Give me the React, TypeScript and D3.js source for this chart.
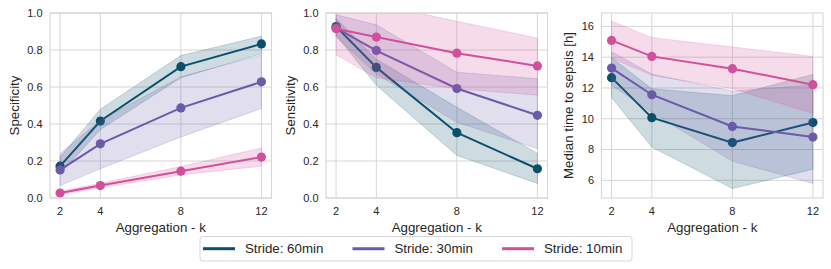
import React from "react";
import * as d3 from "d3";

const ks = [2, 4, 8, 12];
const xTicks = [2, 4, 8, 12];
const seriesNames = ["Stride: 60min", "Stride: 30min", "Stride: 10min"];
const seriesColors = ["#0b4f6b", "#6a5aa8", "#d1509b"];

const spec60 = [0.172, 0.416, 0.71, 0.833];
const spec60Lo = [0.13, 0.37, 0.65, 0.78];
const spec60Hi = [0.22, 0.48, 0.77, 0.875];
const spec30 = [0.152, 0.293, 0.487, 0.628];
const spec30Lo = [0.067, 0.158, 0.33, 0.484];
const spec30Hi = [0.24, 0.42, 0.655, 0.773];
const spec10 = [0.027, 0.067, 0.145, 0.221];
const spec10Lo = [0.018, 0.055, 0.125, 0.172];
const spec10Hi = [0.036, 0.08, 0.17, 0.27];

const sens60 = [0.927, 0.706, 0.353, 0.158];
const sens60Lo = [0.88, 0.61, 0.23, 0.079];
const sens60Hi = [0.97, 0.75, 0.49, 0.242];
const sens30 = [0.92, 0.797, 0.592, 0.447];
const sens30Lo = [0.87, 0.67, 0.41, 0.266];
const sens30Hi = [0.99, 0.936, 0.68, 0.645];
const sens10 = [0.915, 0.87, 0.783, 0.714];
const sens10Lo = [0.775, 0.65, 0.59, 0.556];
const sens10Hi = [1.06, 1.05, 0.955, 0.864];

const time60 = [12.67, 10.07, 8.45, 9.75];
const time60Lo = [11.37, 8.16, 5.46, 6.72];
const time60Hi = [13.97, 11.95, 11.5, 12.88];
const time30 = [13.29, 11.56, 9.5, 8.81];
const time30Lo = [12.17, 10.4, 7.25, 5.79];
const time30Hi = [14.35, 12.9, 11.8, 12.2];
const time10 = [15.09, 14.05, 13.25, 12.21];
const time10Lo = [13.95, 12.82, 11.95, 10.35];
const time10Hi = [16.34, 15.27, 14.66, 14.05];

const unitTicks = [0, 0.2, 0.4, 0.6, 0.8, 1.0];
const timeTicks = [6, 8, 10, 12, 14, 16];

const FONT = "'Liberation Sans', Arial, Helvetica, sans-serif";
const GRID = "#d6d6d6";
const TEXT = "#262626";

type Series = { mean: number[]; lo: number[]; hi: number[] };

const panels = [
  {
    id: "p1",
    left: 50,
    ylabel: "Specificity",
    ydomain: [0, 1] as [number, number],
    yticks: unitTicks,
    fmt: (v: number) => v.toFixed(1),
    series: [
      { mean: spec60, lo: spec60Lo, hi: spec60Hi },
      { mean: spec30, lo: spec30Lo, hi: spec30Hi },
      { mean: spec10, lo: spec10Lo, hi: spec10Hi },
    ] as Series[],
    ylabX: 14,
  },
  {
    id: "p2",
    left: 326,
    ylabel: "Sensitivity",
    ydomain: [0, 1] as [number, number],
    yticks: unitTicks,
    fmt: (v: number) => v.toFixed(1),
    series: [
      { mean: sens60, lo: sens60Lo, hi: sens60Hi },
      { mean: sens30, lo: sens30Lo, hi: sens30Hi },
      { mean: sens10, lo: sens10Lo, hi: sens10Hi },
    ] as Series[],
    ylabX: 290,
  },
  {
    id: "p3",
    left: 601.5,
    ylabel: "Median time to sepsis [h]",
    ydomain: [4.85, 16.87] as [number, number],
    yticks: timeTicks,
    fmt: (v: number) => String(v),
    series: [
      { mean: time60, lo: time60Lo, hi: time60Hi },
      { mean: time30, lo: time30Lo, hi: time30Hi },
      { mean: time10, lo: time10Lo, hi: time10Hi },
    ] as Series[],
    ylabX: 568,
  },
];

const PW = 221.5;
const TOP = 13;
const BOTTOM = 198;

function Panel({ p }: { p: (typeof panels)[number] }) {
  const x = d3.scaleLinear().domain([1.5, 12.5]).range([p.left, p.left + PW]);
  const y = d3.scaleLinear().domain(p.ydomain).range([BOTTOM, TOP]);
  const area = d3
    .area<number>()
    .x((_, i) => x(ks[i]))
    .y0((_, i) => 0)
    .y1((_, i) => 0);
  const line = d3
    .line<number>()
    .x((_, i) => x(ks[i]))
    .y((d) => y(d));
  const clipId = "clip-" + p.id;
  return (
    <g>
      <defs>
        <clipPath id={clipId}>
          <rect x={p.left} y={TOP} width={PW} height={BOTTOM - TOP} />
        </clipPath>
      </defs>
      {p.yticks.map((t) => (
        <line key={"gy" + t} x1={p.left} x2={p.left + PW} y1={y(t)} y2={y(t)} stroke={GRID} strokeWidth={1} />
      ))}
      {xTicks.map((t) => (
        <line key={"gx" + t} x1={x(t)} x2={x(t)} y1={TOP} y2={BOTTOM} stroke={GRID} strokeWidth={1} />
      ))}
      <g clipPath={`url(#${clipId})`}>
        {p.series.map((s, si) => {
          const a = d3
            .area<number>()
            .x((_, i) => x(ks[i]))
            .y0((_, i) => y(s.lo[i]))
            .y1((_, i) => y(s.hi[i]));
          return (
            <g key={"s" + si}>
              <path d={a(s.mean) || ""} fill={seriesColors[si]} fillOpacity={0.2} stroke={seriesColors[si]} strokeOpacity={0.25} strokeWidth={0.8} />
              <path d={line(s.mean) || ""} fill="none" stroke={seriesColors[si]} strokeWidth={2} />
              {s.mean.map((v, i) => (
                <circle key={i} cx={x(ks[i])} cy={y(v)} r={4.6} fill={seriesColors[si]} />
              ))}
            </g>
          );
        })}
      </g>
      <rect x={p.left} y={TOP} width={PW} height={BOTTOM - TOP} fill="none" stroke={GRID} strokeWidth={1.1} />
      {p.yticks.map((t) => (
        <text key={"ty" + t} x={p.left - 7.5} y={y(t)} dy="0.35em" textAnchor="end" fontSize={11} fill={TEXT} fontFamily={FONT}>
          {p.fmt(t)}
        </text>
      ))}
      {xTicks.map((t) => (
        <text key={"tx" + t} x={x(t)} y={214.5} textAnchor="middle" fontSize={11} fill={TEXT} fontFamily={FONT}>
          {t}
        </text>
      ))}
      <text x={p.left + PW / 2} y={231.5} textAnchor="middle" fontSize={13.3} fill={TEXT} fontFamily={FONT}>
        Aggregation - k
      </text>
      <text
        transform={`translate(${p.ylabX},${(TOP + BOTTOM) / 2}) rotate(-90)`}
        dy="0.35em"
        textAnchor="middle"
        fontSize={13.3}
        fill={TEXT}
        fontFamily={FONT}
      >
        {p.ylabel}
      </text>
    </g>
  );
}

const legendLineX = [203, 352.5, 502];

export default function App() {
  return (
    <svg width={831} height={269} style={{ position: "absolute", left: 0, top: 0, background: "#fff" }}>
      <rect x={0} y={0} width={831} height={269} fill="#fff" />
      {panels.map((p) => (
        <Panel key={p.id} p={p} />
      ))}
      <rect x={200} y={236.5} width={432} height={24.5} rx={3} fill="#fff" stroke="#d6d6d6" strokeWidth={1} />
      {seriesNames.map((n, i) => (
        <g key={n}>
          <line x1={legendLineX[i]} x2={legendLineX[i] + 32} y1={248.7} y2={248.7} stroke={seriesColors[i]} strokeWidth={3} />
          <text x={legendLineX[i] + 42} y={248.7} dy="0.35em" fontSize={13.3} fill={TEXT} fontFamily={FONT}>
            {n}
          </text>
        </g>
      ))}
    </svg>
  );
}
